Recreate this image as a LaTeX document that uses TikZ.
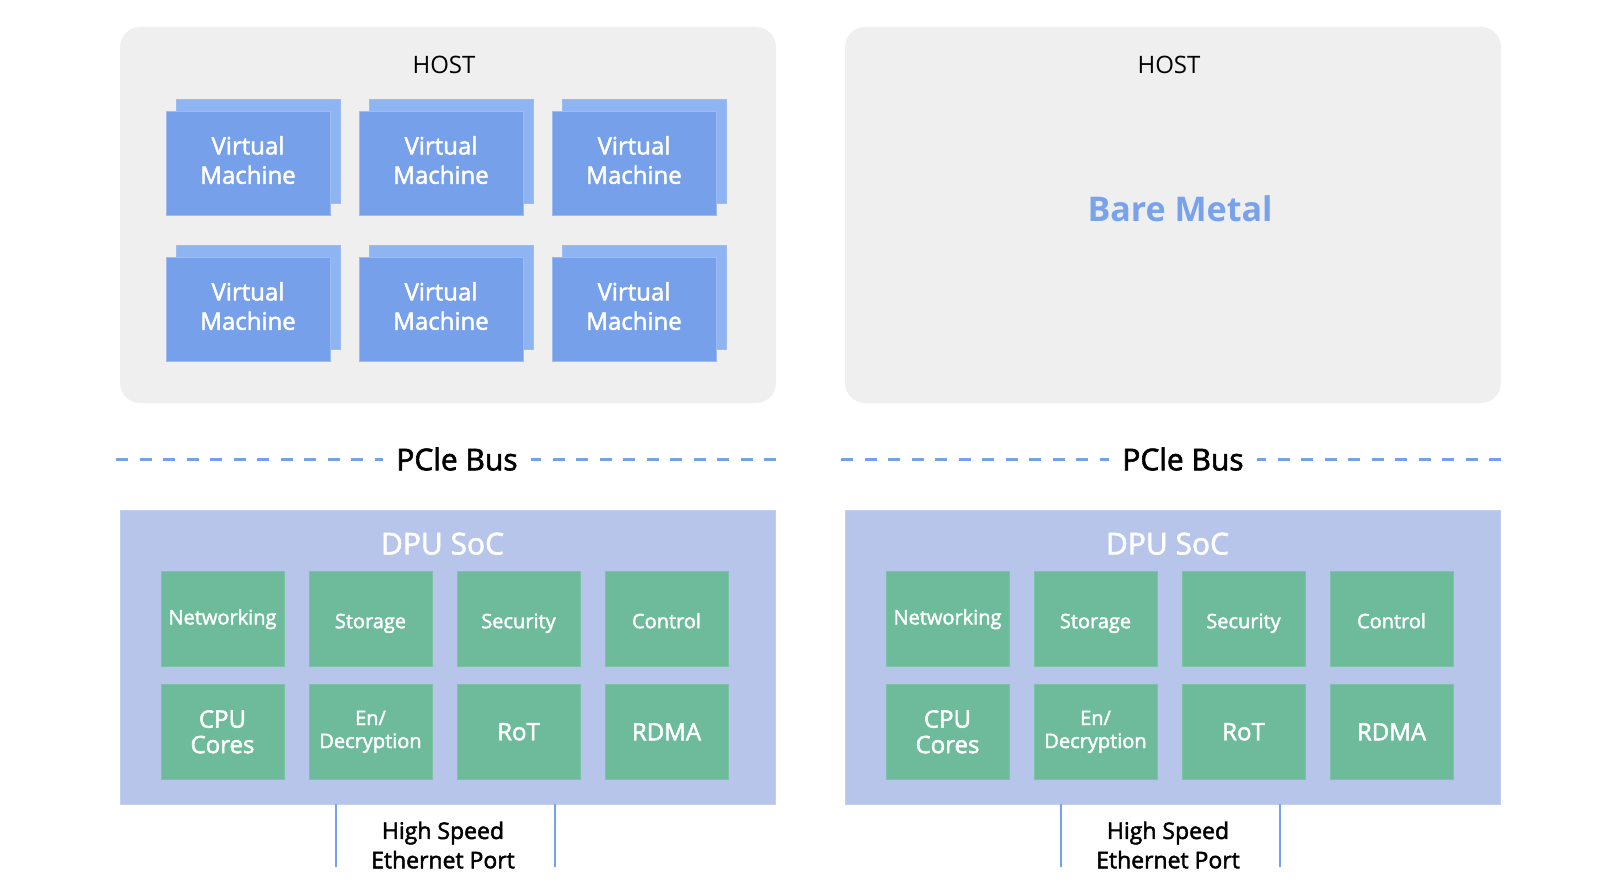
\documentclass[tikz,border=0pt]{standalone}
\usepackage{fontspec}
\setmainfont{Open Sans}
\newfontfamily\semibold[FakeBold=2]{Open Sans}
\usetikzlibrary{positioning,shadows}

\definecolor{hostgray}{HTML}{EFEFEF}
\definecolor{vmfront}{HTML}{76A0EA}
\definecolor{vmback}{HTML}{8EB5F1}
\definecolor{vmedge}{HTML}{9DBBF0}
\definecolor{busblue}{HTML}{76A0EA}
\definecolor{dpufill}{HTML}{B7C5EA}
\definecolor{dpuedge}{HTML}{C3CFEF}
\definecolor{chipgreen}{HTML}{6DBB9B}
\definecolor{chipedge}{HTML}{7CC2A5}
\definecolor{metalblue}{HTML}{78A2EC}

\begin{document}
\begin{tikzpicture}[
		x=1pt, y=-1pt,
		every node/.style={inner sep=0pt, outer sep=0pt},
		hostbox/.style={fill=hostgray, rounded corners=20pt, minimum width=656pt, minimum height=376pt},
		hostlabel/.style={font=\fontsize{24}{28}\selectfont},
		vm/.style={fill=vmfront, draw=vmedge, line width=0.8pt,
			minimum width=164pt, minimum height=104pt, text depth=6pt,
			text=white, align=center, font=\fontsize{24}{29.3}\semibold,
			copy shadow={shadow xshift=10pt, shadow yshift=12pt, fill=vmback, draw=vmedge, line width=0.8pt}},
		metal/.style={text=metalblue, font=\fontsize{34}{40}\selectfont\bfseries},
		buslabel/.style={inner xsep=13pt, font=\fontsize{30}{34}\semibold},
		bus/.style={draw=busblue, line width=3pt, dash pattern=on 12pt off 11.5pt},
		dpubox/.style={fill=dpufill, draw=dpuedge, line width=0.8pt, minimum width=655pt, minimum height=294pt},
		dpulabel/.style={text=white, font=\fontsize{30}{34}\semibold},
		chip/.style={fill=chipgreen, draw=chipedge, line width=0.6pt,
			minimum width=123pt, minimum height=95pt,
			text=white, align=center, font=\fontsize{20}{23}\semibold},
		chiplow/.style={chip, text height=18pt, text depth=0pt},
		chipbig/.style={chip, font=\fontsize{24}{25.5}\semibold},
		port/.style={draw=busblue, line width=2.6pt},
		portlabel/.style={align=center, font=\fontsize{23}{29.3}\semibold}
	]
	\useasboundingbox (0,0) rectangle (1601,893);

	% left host with virtual machines
	\node [hostbox]             (host1)    at (448,215) {};
	\node [hostlabel]           (hostlbl1) at (444,65)  {HOST};
	\node [vm]                  (vm1)      at (248,163) {Virtual\\Machine};
	\node [vm, right=29pt of vm1] (vm2) {Virtual\\Machine};
	\node [vm, right=29pt of vm2] (vm3) {Virtual\\Machine};
	\node [vm, below=42pt of vm1] (vm4) {Virtual\\Machine};
	\node [vm, right=29pt of vm4] (vm5) {Virtual\\Machine};
	\node [vm, right=29pt of vm5] (vm6) {Virtual\\Machine};

	% right host, bare metal
	\node [hostbox]   (host2)    at (1173,215)   {};
	\node [hostlabel] (hostlbl2) at (1169,65)    {HOST};
	\node [metal]     (metal)    at (1180,208.5) {Bare Metal};

	% PCIe buses
	\node [buslabel] (pcie1) at (457,459)  {PCle Bus};
	\node [buslabel] (pcie2) at (1183,459) {PCle Bus};
	\coordinate (bus1l) at (116,459);
	\coordinate (bus1r) at (776,459);
	\coordinate (bus2l) at (841,459);
	\coordinate (bus2r) at (1501,459);
	\draw [bus] (bus1l) -- (pcie1.west);
	\draw [bus] (bus1r) -- (pcie1.east);
	\draw [bus] (bus2l) -- (pcie2.west);
	\draw [bus] (bus2r) -- (pcie2.east);

	% left DPU
	\node [dpubox]   (dpu1)    at (447.5,657.25) {};
	\node [dpulabel] (dpulbl1) at (442.5,543.7)  {DPU SoC};
	\node [chip]                         (net1)  at (222.5,619.2) {Networking};
	\node [chiplow, right=25pt of net1]  (stor1) {Storage};
	\node [chiplow, right=25pt of stor1] (sec1)  {Security};
	\node [chiplow, right=25pt of sec1]  (ctrl1) {Control};
	\node [chipbig, below=17.6pt of net1] (cpu1)   {CPU\\Cores};
	\node [chip, right=25pt of cpu1]      (crypt1) {En/\\Decryption};
	\node [chipbig, right=25pt of crypt1] (rot1)   {RoT};
	\node [chipbig, right=25pt of rot1]   (rdma1)  {RDMA};

	% right DPU
	\node [dpubox]   (dpu2)    at (1172.5,657.25) {};
	\node [dpulabel] (dpulbl2) at (1167.5,543.7)  {DPU SoC};
	\node [chip]                         (net2)  at (947.5,619.2) {Networking};
	\node [chiplow, right=25pt of net2]  (stor2) {Storage};
	\node [chiplow, right=25pt of stor2] (sec2)  {Security};
	\node [chiplow, right=25pt of sec2]  (ctrl2) {Control};
	\node [chipbig, below=17.6pt of net2] (cpu2)   {CPU\\Cores};
	\node [chip, right=25pt of cpu2]      (crypt2) {En/\\Decryption};
	\node [chipbig, right=25pt of crypt2] (rot2)   {RoT};
	\node [chipbig, right=25pt of rot2]   (rdma2)  {RDMA};

	% ethernet ports
	\coordinate (eth1a) at (336,866.7);
	\coordinate (eth1b) at (555,866.7);
	\coordinate (eth2a) at (1061,866.7);
	\coordinate (eth2b) at (1280,866.7);
	\draw [port] (eth1a) -- (eth1a |- dpu1.south);
	\draw [port] (eth1b) -- (eth1b |- dpu1.south);
	\draw [port] (eth2a) -- (eth2a |- dpu2.south);
	\draw [port] (eth2b) -- (eth2b |- dpu2.south);
	\node [portlabel] (port1) at (443,845)  {High Speed\\Ethernet Port};
	\node [portlabel] (port2) at (1168,845) {High Speed\\Ethernet Port};
\end{tikzpicture}
\end{document}
